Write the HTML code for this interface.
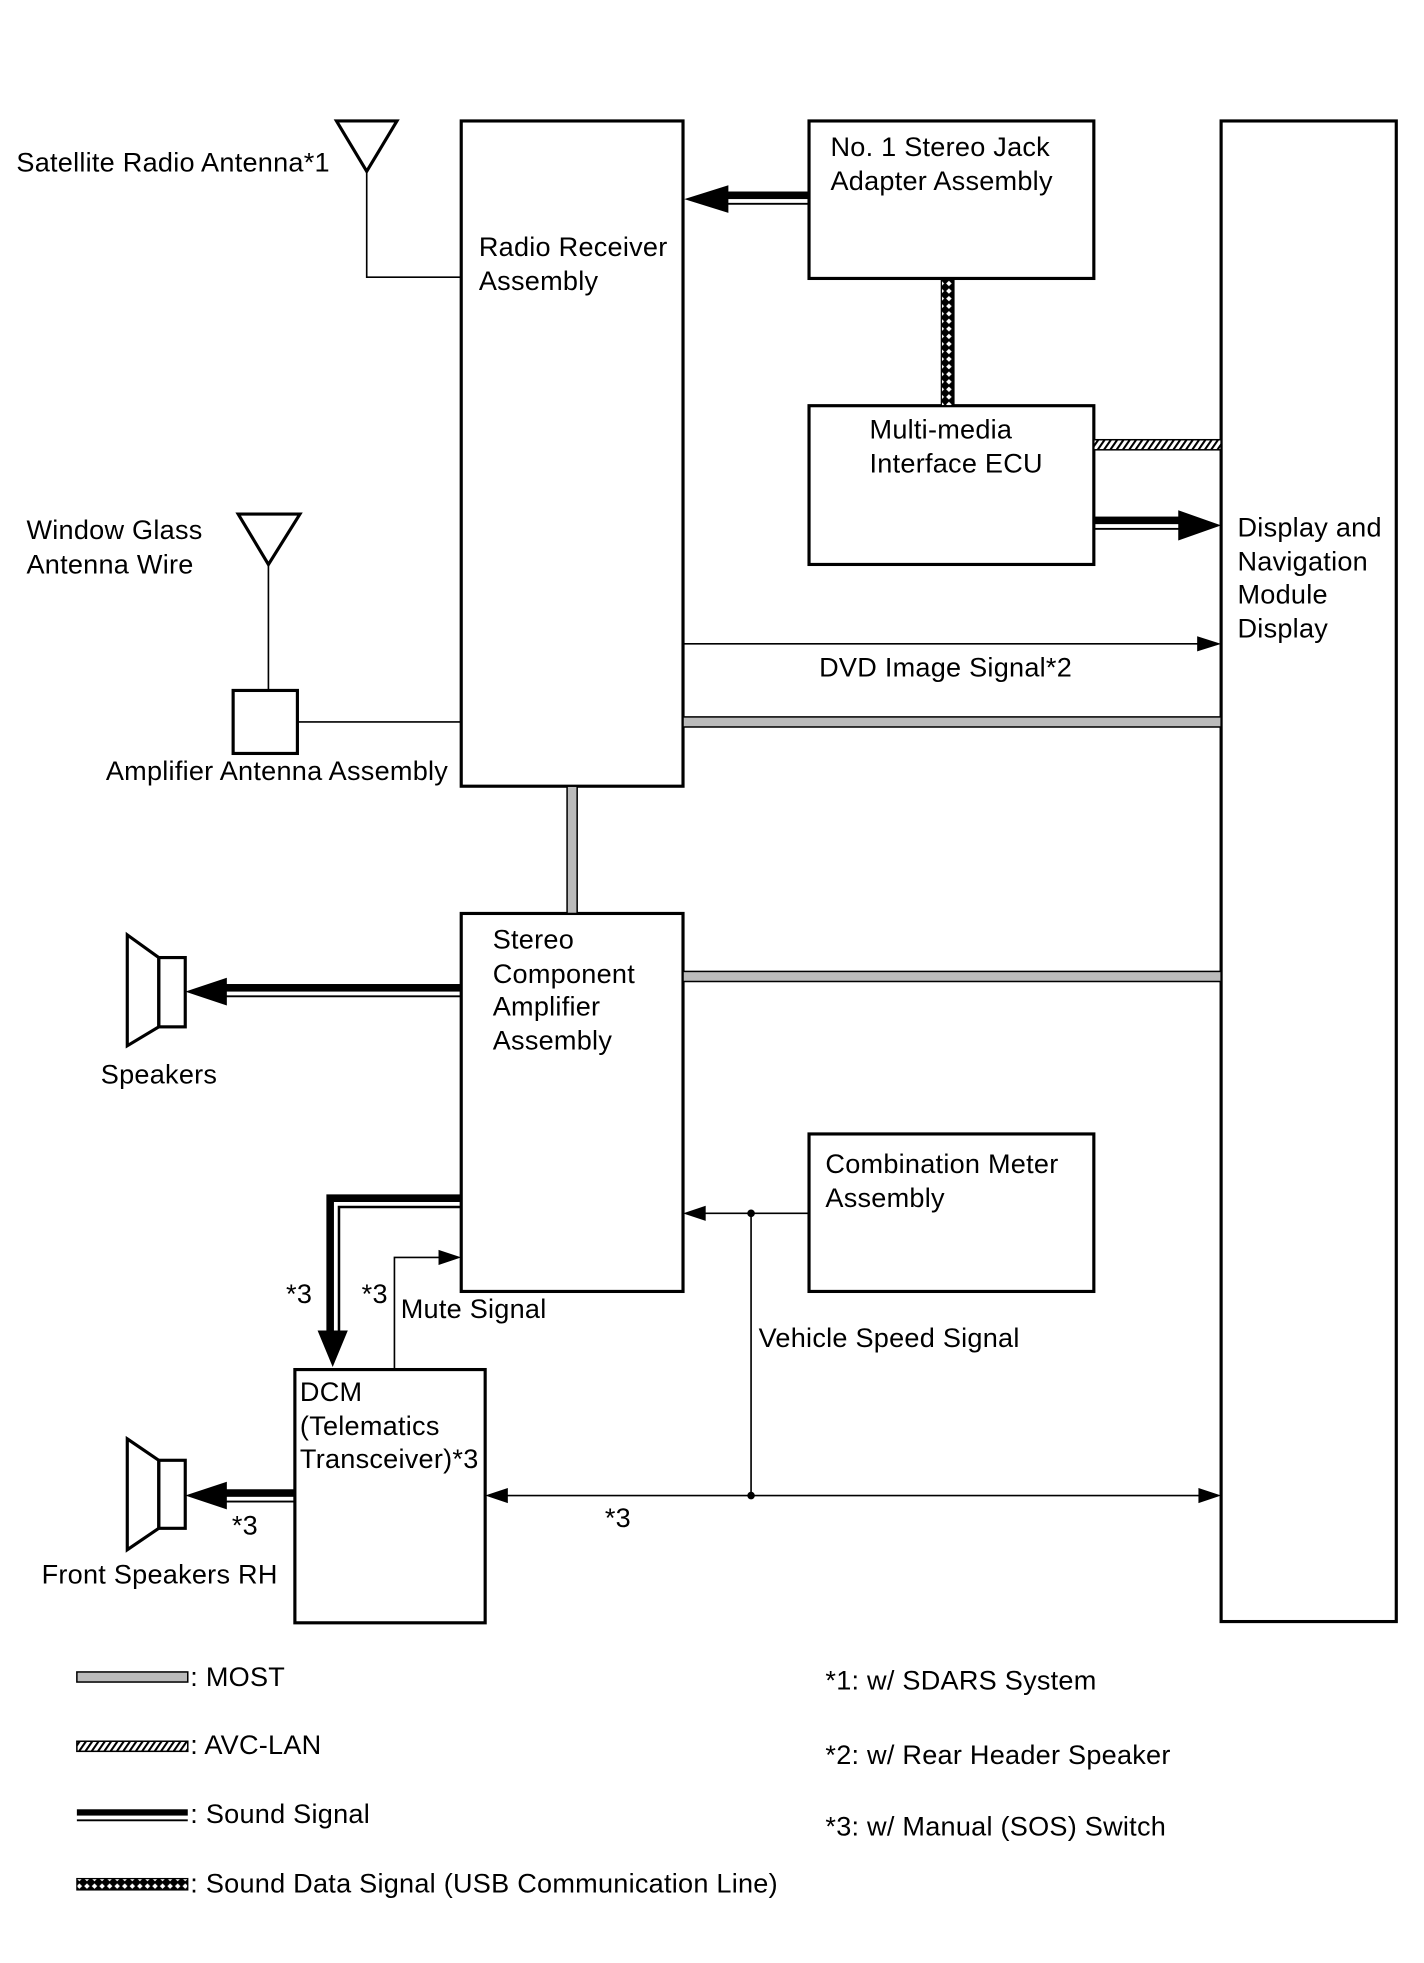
<!DOCTYPE html>
<html><head><meta charset="utf-8"><style>
html,body{margin:0;padding:0;background:#fff;}
svg{display:block;}
text{font-family:"Liberation Sans",Arial,sans-serif;font-size:21.5px;letter-spacing:0.2px;fill:#000;}
</style></head><body>
<svg width="1424" height="1963" viewBox="0 0 1130 1558" preserveAspectRatio="none" xmlns="http://www.w3.org/2000/svg">
<defs>
<pattern id="hatch" width="5" height="8" patternUnits="userSpaceOnUse" patternTransform="skewX(-35)">
<rect width="5" height="8" fill="#fff"/><rect width="2" height="8" fill="#000"/>
</pattern>
<pattern id="xh" width="6" height="6" patternUnits="userSpaceOnUse">
<rect width="6" height="6" fill="#000"/><path d="M3 0.8 L5.2 3 L3 5.2 L0.8 3Z" fill="#fff"/>
</pattern>
</defs>
<rect width="1130" height="1558" fill="#fff"/>
<g fill="none" stroke="#000" stroke-width="2.5">
<rect x="366" y="96" width="176" height="528"/>
<rect x="642" y="96" width="226" height="125"/>
<rect x="642" y="322" width="226" height="126"/>
<rect x="969" y="96" width="139" height="1191"/>
<rect x="366" y="725" width="176" height="300"/>
<rect x="642" y="900" width="226" height="125"/>
<rect x="234" y="1087" width="151" height="201"/>
<rect x="185" y="548" width="51" height="50"/>
<path d="M267 96 L315 96 L291 136 Z"/>
<path d="M189 408 L238 408 L213 448 Z"/>
<path d="M101 742 L126 760 L126 815 L101 830 Z"/><rect x="126" y="760" width="21" height="55"/>
<path d="M101 1142 L126 1159 L126 1213 L101 1230 Z"/><rect x="126" y="1159" width="21" height="54"/>
</g>
<g fill="none" stroke="#000" stroke-width="1.3">
<path d="M291 136 V220 H366"/>
<path d="M213 448 V548"/>
<path d="M236 573 H366"/>
<path d="M542 511 H955"/>
<path d="M642 963 H556"/>
<path d="M596 963 V1187"/>
<path d="M399 1187 H955"/>
<path d="M313 1087 V998 H352"/>
</g>
<g fill="#000">
<path d="M969 511 L950 505 L950 517Z"/>
<path d="M542 963 L560 957 L560 969Z"/>
<path d="M385 1187 L403 1181 L403 1193Z"/>
<path d="M969 1187 L951 1181 L951 1193Z"/>
<path d="M366 998 L348 992 L348 1004Z"/>
<circle cx="596" cy="963" r="3"/><circle cx="596" cy="1187" r="3"/>
</g>
<g fill="#000">
<rect x="575" y="152" width="67" height="6"/><rect x="575" y="161" width="67" height="1.5"/>
<path d="M543 158 L578 147 L578 169Z"/>
<rect x="868" y="410" width="70" height="6"/><rect x="868" y="419" width="70" height="1.5"/>
<path d="M969 417 L935 405 L935 429Z"/>
<rect x="178" y="781" width="188" height="6"/><rect x="178" y="790" width="188" height="1.5"/>
<path d="M147 787 L180 776 L180 798Z"/>
<rect x="178" y="1182" width="56" height="6"/><rect x="178" y="1191" width="56" height="1.5"/>
<path d="M147 1187 L180 1176 L180 1198Z"/>
<path d="M366 948 H259 V1056 H265 V954 H366Z"/>
<path d="M366 957 H268 V1056 H270 V959 H366Z"/>
<path d="M264 1085 L252 1056 L276 1056Z"/>
</g>
<g fill="#bbb" stroke="#000" stroke-width="1.2">
<rect x="542" y="569" width="427" height="8"/>
<rect x="542" y="771" width="427" height="8"/>
<rect x="450" y="624" width="8" height="101"/>
<rect x="61" y="1327" width="88" height="8"/>
</g>
<rect x="868" y="349" width="101" height="8" fill="url(#hatch)" stroke="#000" stroke-width="1.2"/>
<rect x="747" y="221" width="10" height="101" fill="url(#xh)" stroke="#000" stroke-width="1"/>
<rect x="61" y="1382" width="88" height="8" fill="url(#hatch)" stroke="#000" stroke-width="1.2"/>
<rect x="61" y="1436" width="88" height="5" fill="#000"/><rect x="61" y="1444" width="88" height="1.5" fill="#000"/>
<rect x="61" y="1491" width="88" height="9" fill="url(#xh)" stroke="#000" stroke-width="1"/>
<text x="13" y="136">Satellite Radio Antenna*1</text>
<text x="380" y="203">Radio Receiver</text><text x="380" y="230">Assembly</text>
<text x="659" y="124">No. 1 Stereo Jack</text><text x="659" y="151">Adapter Assembly</text>
<text x="690" y="348">Multi-media</text><text x="690" y="375">Interface ECU</text>
<text x="982" y="426">Display and</text><text x="982" y="453">Navigation</text><text x="982" y="479">Module</text><text x="982" y="506">Display</text>
<text x="21" y="428">Window Glass</text><text x="21" y="455">Antenna Wire</text>
<text x="84" y="619">Amplifier Antenna Assembly</text>
<text x="650" y="537">DVD Image Signal*2</text>
<text x="391" y="753">Stereo</text><text x="391" y="780">Component</text><text x="391" y="806">Amplifier</text><text x="391" y="833">Assembly</text>
<text x="80" y="860">Speakers</text>
<text x="655" y="931">Combination Meter</text><text x="655" y="958">Assembly</text>
<text x="227" y="1034">*3</text><text x="287" y="1034">*3</text>
<text x="318" y="1046">Mute Signal</text>
<text x="602" y="1069">Vehicle Speed Signal</text>
<text x="238" y="1112">DCM</text><text x="238" y="1139">(Telematics</text><text x="238" y="1165">Transceiver)*3</text>
<text x="184" y="1218">*3</text><text x="480" y="1212">*3</text>
<text x="33" y="1257">Front Speakers RH</text>
<text x="151" y="1338">: MOST</text>
<text x="151" y="1392">: AVC-LAN</text>
<text x="151" y="1447">: Sound Signal</text>
<text x="151" y="1502">: Sound Data Signal (USB Communication Line)</text>
<text x="655" y="1341">*1: w/ SDARS System</text>
<text x="655" y="1400">*2: w/ Rear Header Speaker</text>
<text x="655" y="1457">*3: w/ Manual (SOS) Switch</text>
</svg>
</body></html>
